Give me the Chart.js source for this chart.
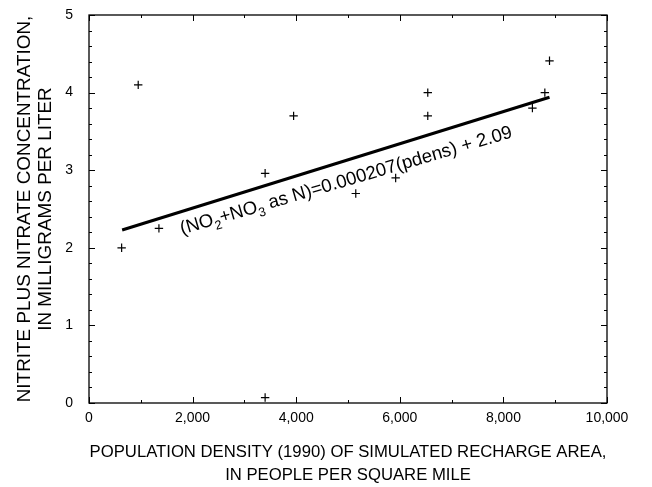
<!DOCTYPE html>
<html>
<head>
<meta charset="utf-8">
<script src="https://cdn.jsdelivr.net/npm/chart.js@4/dist/chart.umd.min.js"></script>
<style>
  html, body { margin: 0; padding: 0; background: #fff; }
  #wrap { width: 652px; height: 487px; }
</style>
</head>
<body>
<div id="wrap"><canvas id="chart"></canvas></div>
<script>
// values
const xTickValues = [0, 2000, 4000, 6000, 8000, 10000];
const yTickValues = [0, 1, 2, 3, 4, 5];
const popDensity = [630, 950, 1350, 3400, 3400, 3950, 5150, 5920, 6540, 6540, 8560, 8800, 8890];
const nitrate = [2.0, 4.1, 2.25, 2.96, 0.07, 3.7, 2.7, 2.9, 4.0, 3.7, 3.8, 4.0, 4.41];
const fitX = [640, 8890];
const fitY = [2.23, 3.94];
const xTitle = ['POPULATION DENSITY (1990) OF SIMULATED RECHARGE AREA,', 'IN PEOPLE PER SQUARE MILE'];
const yTitle = ['NITRITE PLUS NITRATE CONCENTRATION,', 'IN MILLIGRAMS PER LITER'];
// equation label: [text, isSubscript]
const eqParts = [['(NO', 0], ['2', 1], ['+NO', 0], ['3', 1], [' as N)=0.000207(pdens) + 2.09', 0]];
const eqAnchor = { x: 1795, y: 2.17 };
const eqAngle = 16.4;

const family = '"Liberation Sans", Arial, Helvetica, sans-serif';

const frameTicks = {
  id: 'frameTicks',
  afterDatasetsDraw(chart) {
    const { ctx, chartArea: a, scales: { x, y } } = chart;
    ctx.save();
    ctx.strokeStyle = '#000';
    ctx.lineWidth = 1.3;
    ctx.strokeRect(a.left, a.top, a.right - a.left, a.bottom - a.top);
    ctx.lineWidth = 1;
    ctx.beginPath();
    for (let i = 0; i <= 10; i++) {
      const px = Math.round(x.getPixelForValue(i * 1000)) + 0.5;
      const len = i % 2 === 0 ? 6 : 3;
      ctx.moveTo(px, a.bottom); ctx.lineTo(px, a.bottom - len);
      ctx.moveTo(px, a.top); ctx.lineTo(px, a.top + len);
    }
    for (let i = 0; i <= 25; i++) {
      const py = Math.round(y.getPixelForValue(i / 5)) + 0.5;
      const len = i % 5 === 0 ? 6 : 3;
      ctx.moveTo(a.left, py); ctx.lineTo(a.left + len, py);
      ctx.moveTo(a.right, py); ctx.lineTo(a.right - len, py);
    }
    ctx.stroke();
    ctx.restore();
  },
};

const equationLabel = {
  id: 'equationLabel',
  afterDatasetsDraw(chart) {
    const { ctx, scales: { x, y } } = chart;
    const size = 18.6;
    ctx.save();
    ctx.translate(x.getPixelForValue(eqAnchor.x), y.getPixelForValue(eqAnchor.y));
    ctx.rotate(-eqAngle * Math.PI / 180);
    ctx.fillStyle = '#000';
    ctx.textBaseline = 'alphabetic';
    let cx = 0;
    eqParts.forEach(([txt, sub]) => {
      ctx.font = `${sub ? size * 0.68 : size}px ${family}`;
      ctx.fillText(txt, cx, sub ? size * 0.28 : 0);
      cx += ctx.measureText(txt).width;
    });
    ctx.restore();
  },
};

new Chart(document.getElementById('chart'), {
  type: 'scatter',
  data: {
    datasets: [
      {
        data: popDensity.map((v, i) => ({ x: v, y: nitrate[i] })),
        pointStyle: 'cross',
        pointRadius: 4.2,
        borderColor: '#000',
        backgroundColor: '#000',
        borderWidth: 1.2,
      },
      {
        type: 'line',
        data: fitX.map((v, i) => ({ x: v, y: fitY[i] })),
        borderColor: '#000',
        borderWidth: 3,
        pointRadius: 0,
        fill: false,
      },
    ],
  },
  options: {
    responsive: true,
    maintainAspectRatio: false,
    animation: false,
    layout: { padding: { top: 15, right: 45, left: 0, bottom: 0 } },
    plugins: { legend: { display: false }, tooltip: { enabled: false } },
    scales: {
      x: {
        type: 'linear',
        min: 0,
        max: 10000,
        afterBuildTicks: (s) => { s.ticks = xTickValues.map((v) => ({ value: v })); },
        afterFit: (s) => { s.height = 84; },
        grid: { display: false, drawTicks: false },
        border: { display: false },
        ticks: {
          color: '#000',
          padding: 7,
          maxRotation: 0,
          font: { family, size: 14 },
          callback: (v) => Number(v).toLocaleString('en-US'),
        },
        title: {
          display: true,
          text: xTitle,
          color: '#000',
          font: { family, size: 16.7, lineHeight: 1.38 },
          padding: { top: 0, bottom: 0 },
        },
      },
      y: {
        type: 'linear',
        min: 0,
        max: 5,
        afterBuildTicks: (s) => { s.ticks = yTickValues.map((v) => ({ value: v })); },
        afterFit: (s) => { s.width = 89; s.paddingTop = 0; s.paddingBottom = 0; },
        grid: { display: false, drawTicks: false },
        border: { display: false },
        ticks: { color: '#000', padding: 16, font: { family, size: 14 } },
        title: {
          display: true,
          text: yTitle,
          color: '#000',
          font: { family, size: 18.9, lineHeight: 1.11 },
          padding: { top: 14, bottom: 0 },
        },
      },
    },
  },
  plugins: [frameTicks, equationLabel],
});
</script>
</body>
</html>
